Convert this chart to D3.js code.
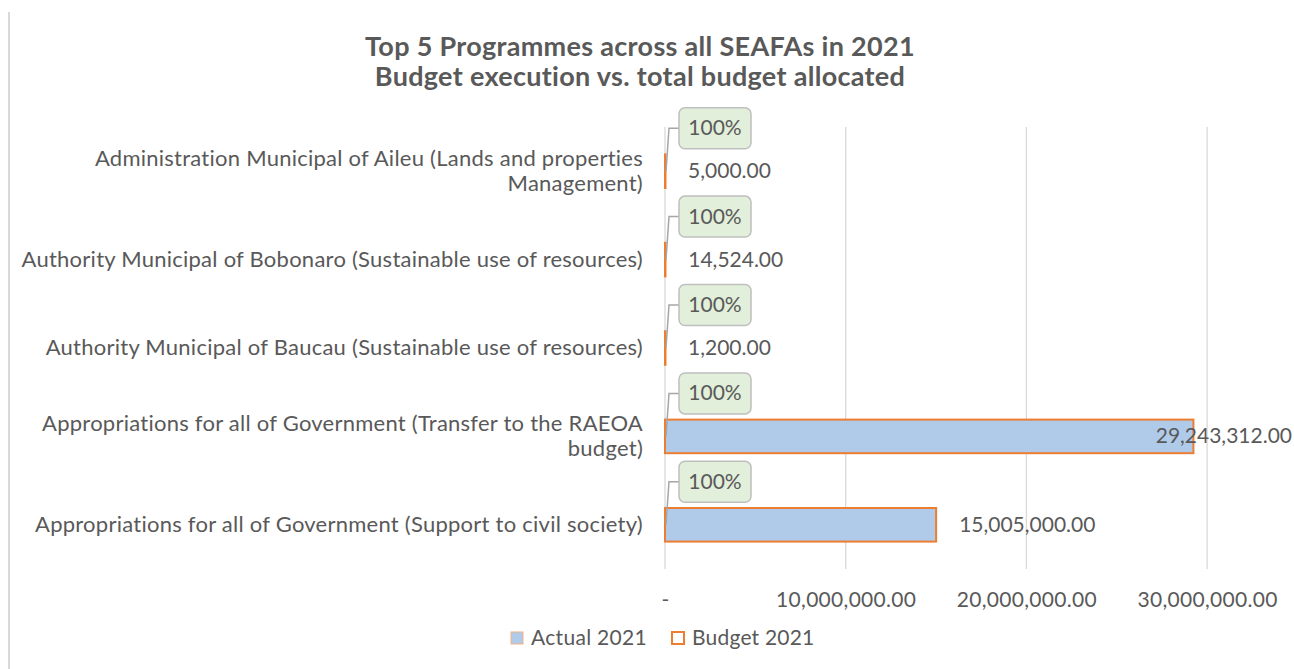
<!DOCTYPE html>
<html>
<head>
<meta charset="utf-8">
<script src="https://cdn.jsdelivr.net/npm/d3@7"></script>
<style>
  body { margin: 0; background: #fff; }
  svg { display: block; }
  text { font-family: Lato, "Open Sans", sans-serif; fill: #595959; }
</style>
</head>
<body>
<svg id="chart" width="1294" height="669"></svg>
<script>
// Programme names (line breaks mark where the axis label wraps)
const categories = [
  "Administration Municipal of Aileu (Lands and properties\nManagement)",
  "Authority Municipal of Bobonaro (Sustainable use of resources)",
  "Authority Municipal of Baucau (Sustainable use of resources)",
  "Appropriations for all of Government (Transfer to the RAEOA\nbudget)",
  "Appropriations for all of Government (Support to civil society)"
];
const actual2021 = [5000, 14524, 1200, 29243312, 15005000];
const budget2021 = [5000, 14524, 1200, 29243312, 15005000];
const xTickValues = [0, 10000000, 20000000, 30000000];
const seriesNames = ["Actual 2021", "Budget 2021"];
const titleLines = [
  "Top 5 Programmes across all SEAFAs in 2021",
  "Budget execution vs. total budget allocated"
];

const W = 1294, H = 669;
const svg = d3.select("#chart");
const fmtNum = d3.format(",.2f");
const fmtPct = d3.format(".0%");
const tickFmt = v => v === 0 ? "-" : fmtNum(v);

const C = {
  text: "#595959", grid: "#d9d9d9", blue: "#afcbe9", orange: "#ed7d31",
  lightOrange: "#f4b183", calloutFill: "#e2efda", calloutStroke: "#bfbfbf", leader: "#a6a6a6"
};
const FS = 21;

// frame line on the left edge
svg.append("line").attr("x1", 9).attr("x2", 9).attr("y1", 12).attr("y2", H)
  .attr("stroke", C.grid).attr("stroke-width", 2);

const plot = { left: 665, top: 127, bottom: 569 };
const x = d3.scaleLinear().domain([0, 40000000]).range([plot.left, plot.left + 4 * 180.7]);
const y = d3.scaleBand().domain(categories).range([plot.top, plot.bottom])
  .paddingInner(0.62).paddingOuter(0.31);

// title
const title = svg.append("text").attr("text-anchor", "middle")
  .attr("font-size", 27).attr("font-weight", "bold").attr("letter-spacing", 0.3);
titleLines.forEach((t, i) => {
  title.append("tspan").attr("x", 640).attr("y", 56 + i * 30).text(t);
});

// vertical gridlines
svg.append("g").selectAll("line").data(xTickValues).join("line")
  .attr("x1", d => x(d)).attr("x2", d => x(d))
  .attr("y1", plot.top).attr("y2", plot.bottom)
  .attr("stroke", C.grid).attr("stroke-width", 1.3);

// value axis
const xAxis = svg.append("g").attr("transform", `translate(0,${plot.bottom})`)
  .call(d3.axisBottom(x).tickValues(xTickValues).tickFormat(tickFmt).tickSize(0).tickPadding(23));
xAxis.select(".domain").remove();
xAxis.selectAll("text").attr("font-size", FS).attr("fill", C.text)
  .attr("letter-spacing", 0.3).style("font-family", "Lato, sans-serif");

// category labels
const catG = svg.append("g");
categories.forEach(c => {
  const lines = c.split("\n");
  const cy = y(c) + y.bandwidth() / 2;
  const t = catG.append("text").attr("text-anchor", "end")
    .attr("font-size", 22).attr("letter-spacing", 0.25);
  lines.forEach((ln, i) => {
    t.append("tspan").attr("x", 643)
      .attr("y", cy + 7 + (i - (lines.length - 1) / 2) * 25).text(ln);
  });
});

const rows = categories.map((c, i) => ({ c, a: actual2021[i], b: budget2021[i] }));

// actual bars (filled) with budget bars (outlined) overlapping
svg.append("g").selectAll("rect").data(rows).join("rect")
  .attr("x", x(0)).attr("y", d => y(d.c))
  .attr("width", d => x(d.a) - x(0)).attr("height", y.bandwidth())
  .attr("fill", C.blue);
svg.append("g").selectAll("rect").data(rows).join("rect")
  .attr("x", x(0)).attr("y", d => y(d.c))
  .attr("width", d => Math.max(x(d.b) - x(0), 0.5)).attr("height", y.bandwidth())
  .attr("fill", "none").attr("stroke", C.orange).attr("stroke-width", 2);

// budget value labels (pulled back inside the canvas when they would overflow)
const valG = svg.append("g");
rows.forEach(d => {
  const t = valG.append("text").attr("font-size", FS)
    .attr("y", y(d.c) + y.bandwidth() / 2 + 7).text(fmtNum(d.b));
  const w = t.node().getComputedTextLength();
  t.attr("x", Math.min(x(d.b) + 23, W - 2 - w));
});

// execution rate callouts with leader lines
const callG = svg.append("g");
rows.forEach(d => {
  const cy = y(d.c) + y.bandwidth() / 2;
  const by = cy - 43, bx = x(0) + 14, bw = 72, bh = 41;
  callG.append("path")
    .attr("d", `M${bx},${by} H${x(0) + 4} L${x(0) + 1},${cy}`)
    .attr("fill", "none").attr("stroke", C.leader).attr("stroke-width", 1.5);
  callG.append("rect").attr("x", bx).attr("y", by - bh / 2)
    .attr("width", bw).attr("height", bh).attr("rx", 6)
    .attr("fill", C.calloutFill).attr("stroke", C.calloutStroke).attr("stroke-width", 1.5);
  callG.append("text").attr("x", bx + bw / 2).attr("y", by + 7)
    .attr("text-anchor", "middle").attr("font-size", FS).text(fmtPct(d.a / d.b));
});

// legend
const leg = svg.append("g");
const legX = [510, 671];
seriesNames.forEach((s, i) => {
  leg.append("rect").attr("x", legX[i] + 1).attr("y", 632)
    .attr("width", 12).attr("height", 12)
    .attr("fill", i ? "none" : C.blue)
    .attr("stroke", i ? C.orange : C.lightOrange).attr("stroke-width", i ? 2 : 1);
  leg.append("text").attr("x", legX[i] + 21).attr("y", 645)
    .attr("font-size", FS).attr("letter-spacing", i ? 0.2 : 0.3).text(s);
});
</script>
</body>
</html>
